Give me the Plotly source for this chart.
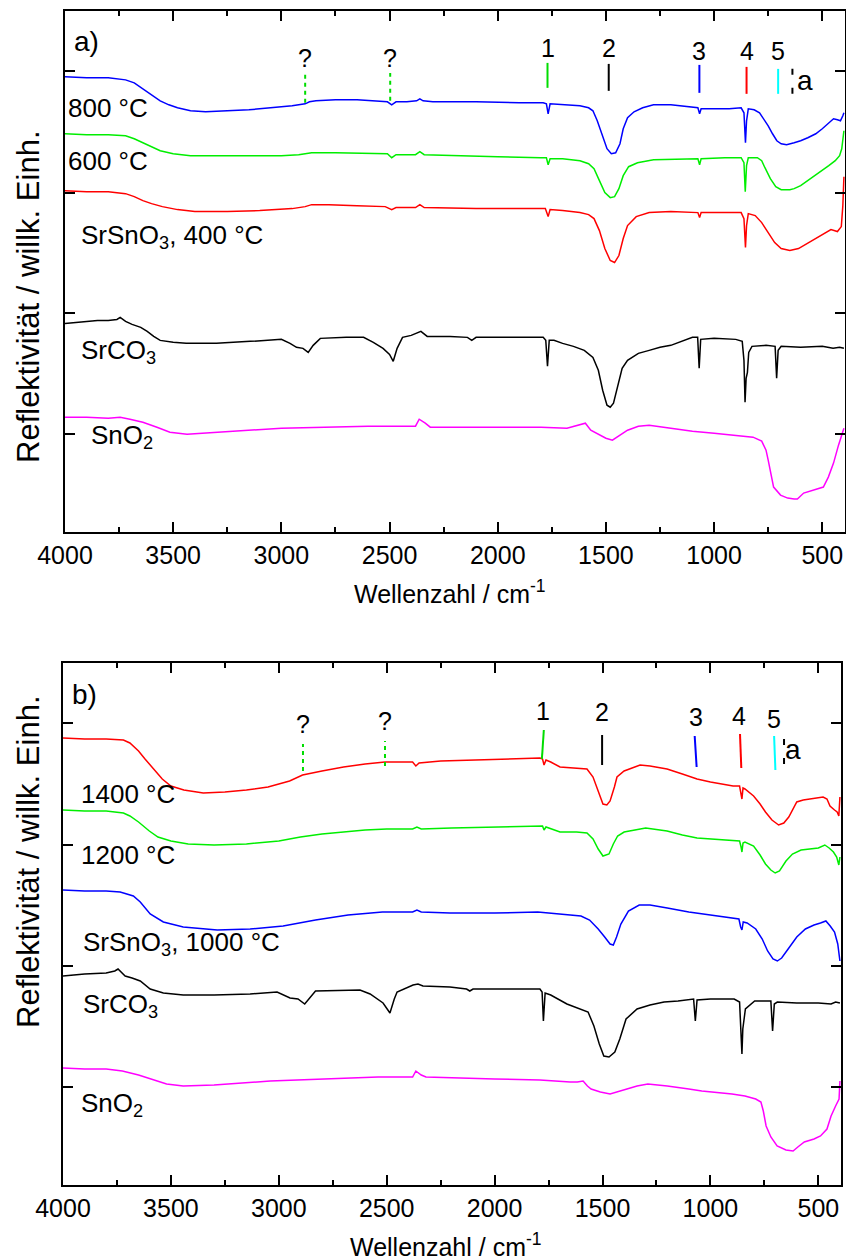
import plotly.graph_objects as go

# ---------------- spectra, panel a) : (wavenumber / cm^-1, reflectivity / arb. units)
a_800 = [(4000, 480), (3900, 479), (3800, 479), (3750, 478), (3720, 477), (3680, 474), (3640, 468),
         (3600, 462), (3560, 456), (3520, 452), (3480, 449), (3420, 446), (3350, 445), (3250, 446),
         (3150, 447), (3050, 449), (2950, 451), (2890, 453), (2870, 455), (2840, 456), (2750, 457),
         (2650, 457), (2550, 456), (2510, 455), (2490, 452), (2470, 455), (2420, 455), (2375, 456),
         (2360, 458), (2345, 456), (2300, 455), (2100, 455), (1900, 454), (1790, 454), (1775, 453),
         (1767, 443), (1758, 453), (1700, 452), (1620, 451), (1580, 449), (1560, 446), (1540, 436),
         (1515, 421), (1495, 408), (1475, 403), (1455, 404), (1435, 413), (1420, 428), (1400, 439),
         (1370, 445), (1330, 449), (1280, 452), (1200, 452), (1120, 450), (1075, 449), (1067, 443),
         (1060, 448), (1000, 448), (930, 448), (875, 449), (862, 444), (855, 414), (850, 436),
         (842, 448), (815, 447), (790, 444), (770, 438), (750, 431), (730, 423), (710, 416),
         (690, 413), (665, 412), (630, 414), (600, 416), (567, 419), (530, 423), (500, 428),
         (470, 434), (448, 438), (430, 437), (416, 436), (405, 441), (400, 444)]

a_600 = [(4000, 423), (3900, 422), (3800, 422), (3720, 421), (3680, 418), (3640, 414), (3600, 410),
         (3560, 406), (3500, 403), (3420, 401), (3300, 401), (3150, 401), (3000, 401), (2920, 402),
         (2890, 403), (2860, 404), (2750, 404), (2600, 403), (2510, 403), (2490, 399), (2470, 402),
         (2380, 402), (2360, 405), (2340, 402), (2200, 401), (2000, 400), (1800, 399), (1775, 399),
         (1767, 392), (1758, 398), (1700, 398), (1620, 396), (1580, 393), (1555, 388), (1530, 376),
         (1505, 364), (1480, 359), (1460, 360), (1440, 368), (1420, 381), (1395, 390), (1354, 394),
         (1280, 397), (1150, 398), (1075, 398), (1067, 392), (1060, 398), (950, 399), (875, 399),
         (862, 394), (856, 365), (850, 391), (842, 399), (800, 399), (780, 396), (765, 389),
         (740, 378), (715, 370), (690, 367), (650, 367), (630, 368), (600, 371), (567, 376),
         (530, 382), (500, 386), (470, 391), (440, 396), (420, 401), (410, 408), (400, 426)]

a_400 = [(4000, 366), (3900, 365), (3800, 365), (3720, 363), (3680, 360), (3640, 356), (3600, 353),
         (3550, 350), (3480, 347), (3400, 345), (3250, 345), (3100, 346), (2950, 348), (2890, 350),
         (2860, 352), (2780, 352), (2650, 351), (2520, 350), (2490, 347), (2470, 349), (2380, 349),
         (2360, 352), (2340, 349), (2100, 348), (1900, 348), (1780, 348), (1767, 340), (1758, 347),
         (1700, 346), (1620, 344), (1580, 342), (1555, 338), (1530, 326), (1505, 308), (1480, 296),
         (1460, 294), (1440, 301), (1420, 318), (1400, 331), (1360, 340), (1300, 344), (1200, 345),
         (1075, 344), (1067, 339), (1060, 344), (950, 344), (875, 344), (862, 338), (855, 309),
         (850, 331), (842, 343), (810, 341), (780, 334), (750, 324), (720, 314), (690, 308),
         (650, 306), (610, 308), (570, 313), (530, 318), (490, 323), (460, 327), (430, 325),
         (412, 330), (405, 351), (400, 380)]

a_srco3 = [(4000, 233), (3950, 234), (3900, 235), (3850, 236), (3800, 236), (3760, 237), (3745, 239),
           (3720, 235), (3690, 232), (3650, 229), (3620, 225), (3590, 220), (3560, 216), (3500, 214),
           (3440, 213), (3300, 213), (3144, 215), (3000, 217), (2960, 213), (2930, 209), (2900, 208),
           (2876, 204), (2853, 211), (2820, 218), (2700, 219), (2620, 219), (2575, 214), (2530, 208),
           (2500, 202), (2483, 195), (2465, 208), (2440, 219), (2400, 221), (2372, 223), (2355, 225),
           (2326, 220), (2220, 220), (2140, 219), (2120, 216), (2100, 219), (1900, 219), (1790, 219),
           (1778, 216), (1770, 190), (1762, 216), (1740, 216), (1700, 213), (1650, 210), (1600, 206),
           (1560, 199), (1535, 186), (1515, 166), (1495, 151), (1480, 149), (1465, 153), (1445, 171),
           (1425, 188), (1400, 196), (1350, 203), (1300, 206), (1250, 209), (1200, 211), (1150, 215),
           (1100, 219), (1076, 219), (1069, 188), (1062, 217), (1000, 218), (900, 217), (870, 215),
           (862, 196), (857, 154), (852, 178), (846, 184), (840, 204), (825, 210), (760, 211),
           (718, 210), (711, 178), (704, 206), (690, 210), (600, 209), (500, 210), (450, 208),
           (420, 209), (400, 208)]

a_sno2 = [(4000, 139), (3900, 139), (3800, 138), (3745, 139), (3700, 137), (3640, 134), (3575, 129),
          (3515, 124), (3436, 122), (3300, 124), (3150, 126), (3000, 128), (2800, 129), (2600, 130),
          (2380, 130), (2363, 137), (2335, 133), (2312, 129), (2200, 129), (2000, 129), (1800, 129),
          (1680, 128), (1620, 131), (1595, 133), (1570, 126), (1530, 121), (1500, 118), (1470, 116),
          (1440, 120), (1400, 126), (1350, 130), (1300, 131), (1200, 128), (1100, 125), (1000, 123),
          (900, 121), (820, 119), (780, 115), (760, 106), (750, 96), (725, 69), (693, 61), (660, 58),
          (630, 57), (615, 57), (586, 63), (540, 66), (495, 69), (472, 79), (448, 93), (425, 111),
          (410, 121), (400, 128)]

# ---------------- spectra, panel b)
b_1400 = [(4000, 471), (3900, 470), (3800, 470), (3720, 469), (3690, 466), (3650, 458), (3620, 450),
          (3580, 440), (3540, 430), (3500, 423), (3440, 419), (3350, 416), (3250, 417), (3150, 419),
          (3050, 422), (2950, 428), (2890, 434), (2800, 438), (2700, 442), (2600, 445), (2508, 447),
          (2420, 447), (2380, 447), (2365, 443), (2350, 446), (2250, 448), (2100, 449), (1950, 450),
          (1790, 451), (1778, 450), (1771, 444), (1762, 449), (1740, 447), (1697, 442), (1620, 441),
          (1572, 440), (1544, 432), (1520, 418), (1498, 405), (1480, 404), (1465, 408), (1445, 422),
          (1433, 432), (1400, 438), (1373, 440), (1326, 444), (1280, 443), (1201, 440), (1130, 435),
          (1062, 430), (1000, 427), (895, 423), (865, 423), (858, 414), (854, 410), (849, 421),
          (840, 420), (800, 413), (770, 405), (745, 397), (715, 389), (684, 384), (660, 386),
          (637, 392), (600, 407), (570, 409), (538, 410), (478, 412), (460, 410), (446, 403),
          (425, 399), (413, 397), (405, 393), (400, 412)]

b_1200 = [(4000, 399), (3900, 398), (3800, 398), (3720, 396), (3690, 393), (3650, 387), (3600, 378),
          (3560, 372), (3500, 368), (3420, 365), (3300, 364), (3150, 365), (3000, 368), (2900, 372),
          (2800, 375), (2700, 377), (2600, 379), (2500, 380), (2380, 380), (2360, 382), (2340, 380),
          (2200, 381), (2000, 382), (1800, 383), (1778, 383), (1771, 379), (1762, 382), (1697, 377),
          (1620, 377), (1572, 376), (1544, 370), (1520, 360), (1498, 353), (1470, 355), (1450, 365),
          (1430, 373), (1400, 377), (1350, 379), (1300, 381), (1201, 378), (1130, 374), (1062, 371),
          (1000, 370), (900, 368), (865, 368), (858, 362), (854, 357), (849, 366), (840, 367),
          (800, 363), (770, 354), (745, 345), (720, 339), (700, 336), (680, 338), (650, 348),
          (620, 355), (580, 359), (540, 360), (500, 361), (470, 364), (450, 361), (430, 357),
          (415, 352), (405, 344), (400, 352)]

b_1000 = [(4000, 319), (3900, 318), (3800, 318), (3735, 317), (3674, 313), (3642, 307), (3596, 295),
          (3535, 287), (3443, 282), (3285, 279), (3133, 280), (2980, 283), (2830, 289), (2679, 294),
          (2520, 297), (2380, 297), (2360, 299), (2340, 297), (2207, 296), (2000, 296), (1800, 297),
          (1700, 295), (1600, 293), (1560, 289), (1520, 280), (1490, 272), (1465, 265), (1450, 264),
          (1435, 272), (1415, 285), (1380, 298), (1330, 304), (1280, 304), (1200, 301), (1100, 297),
          (1000, 294), (900, 291), (868, 290), (860, 282), (854, 279), (848, 287), (830, 286),
          (790, 280), (760, 270), (735, 258), (710, 250), (690, 248), (670, 251), (640, 260),
          (600, 272), (560, 280), (520, 284), (490, 286), (465, 288), (445, 283), (425, 277),
          (410, 265), (400, 248)]

b_srco3 = [(4000, 233), (3900, 235), (3800, 236), (3760, 238), (3745, 240), (3712, 233), (3680, 231),
           (3642, 228), (3596, 220), (3535, 216), (3443, 214), (3300, 214), (3133, 215), (3008, 217),
           (2948, 211), (2911, 210), (2880, 205), (2855, 212), (2830, 218), (2624, 219), (2577, 215),
           (2517, 206), (2485, 196), (2465, 210), (2452, 217), (2378, 224), (2355, 225), (2332, 223),
           (2207, 222), (2130, 220), (2115, 218), (2100, 220), (1900, 220), (1790, 220), (1780, 217),
           (1774, 188), (1766, 216), (1740, 214), (1665, 205), (1600, 200), (1567, 197), (1540, 183),
           (1515, 165), (1494, 153), (1470, 152), (1443, 157), (1420, 170), (1391, 190), (1340, 200),
           (1280, 204), (1215, 207), (1150, 208), (1078, 210), (1070, 188), (1062, 209), (1000, 210),
           (890, 210), (865, 207), (858, 170), (854, 155), (850, 180), (845, 187), (838, 200),
           (795, 208), (720, 208), (712, 178), (704, 205), (690, 207), (600, 206), (500, 206),
           (441, 205), (420, 207), (400, 206)]

b_sno2 = [(4000, 141), (3900, 140), (3800, 140), (3725, 138), (3650, 134), (3592, 130), (3520, 125),
          (3443, 123), (3300, 124), (3040, 128), (2800, 130), (2540, 132), (2380, 132), (2365, 138),
          (2340, 134), (2318, 132), (2000, 130), (1790, 129), (1650, 127), (1617, 127), (1590, 128),
          (1570, 123), (1553, 120), (1510, 117), (1465, 115), (1420, 118), (1380, 121), (1340, 123),
          (1290, 125), (1200, 123), (1100, 120), (1040, 118), (900, 115), (840, 113), (790, 110),
          (766, 107), (755, 98), (742, 83), (720, 72), (691, 63), (650, 59), (617, 58), (595, 62),
          (565, 67), (520, 70), (490, 73), (460, 80), (441, 93), (420, 103), (404, 110), (400, 128)]

# ---------------- curve labels: (text, wavenumber, reflectivity)
labels_a = [("800 °C", 3995, 449), ("600 °C", 3995, 396), ("SrSnO<sub>3</sub>, 400 °C", 3935, 320),
            ("SrCO<sub>3</sub>", 3935, 205), ("SnO<sub>2</sub>", 3890, 120)]
labels_b = [("1400 °C", 3925, 415), ("1200 °C", 3925, 354), ("SrSnO<sub>3</sub>, 1000 °C", 3918, 266),
            ("SrCO<sub>3</sub>", 3918, 204), ("SnO<sub>2</sub>", 3925, 105)]

# ---------------- band markers
mark_text = ["?", "?", "1", "2", "3", "4", "5", ""]
mark_color = ["#00dd00", "#00dd00", "#00dd00", "#000000", "#0000ff", "#ff0000", "#00ffff", "#000000"]
mark_dash = ["4px,4px", "4px,4px", "solid", "solid", "solid", "solid", "solid", "6px,13px"]

mark_a_top = [2890, 2497, 1770, 1487, 1068, 850, 704, 638]
mark_a_bot = [2890, 2497, 1770, 1487, 1068, 850, 704, 638]
mark_a_lo = [454, 456, 469, 466, 464, 463, 463, 463]
mark_a_hi = [483, 484, 494, 493, 492, 490, 488, 489]
mark_a_txt_x = [2890, 2497, 1768, 1487, 1068, 850, 704]
mark_a_txt_y = [499, 499, 509, 509, 506, 506, 506]
a_letter_a = (578, 476)

mark_b_top = [2888, 2508, 1772, 1502, 1073, 863, 705, 659]
mark_b_bot = [2888, 2508, 1781, 1502, 1064, 857, 699, 659]
mark_b_lo = [438, 443, 450, 444, 442, 441, 439, 445]
mark_b_hi = [465, 468, 479, 474, 473, 475, 473, 470]
mark_b_txt_x = [2888, 2508, 1776, 1502, 1067, 866, 705]
mark_b_txt_y = [485, 488, 498, 497, 492, 493, 490]
b_letter_a = (617, 460)

x_ticks = [4000, 3500, 3000, 2500, 2000, 1500, 1000, 500]
y_ticks = [122, 243, 364, 486]

FONT = "Liberation Sans, Arial, sans-serif"
W, H = 846, 1260

fig = go.Figure()


def add_curves(curves, xa, ya):
    for data, color in curves:
        fig.add_trace(go.Scatter(x=[p[0] for p in data], y=[p[1] for p in data], mode="lines",
                                 line=dict(color=color, width=1.5), xaxis=xa, yaxis=ya,
                                 showlegend=False, hoverinfo="skip"))


add_curves([(a_800, "#0000ff"), (a_600, "#00ee00"), (a_400, "#ff0000"),
            (a_srco3, "#000000"), (a_sno2, "#ff00ff")], "x", "y")
add_curves([(b_1400, "#ff0000"), (b_1200, "#00ee00"), (b_1000, "#0000ff"),
            (b_srco3, "#000000"), (b_sno2, "#ff00ff")], "x2", "y2")

annotations = []
shapes = []


def panel_decor(xr, yr, labels, top, bot, lo, hi, tx, ty, letter_a, tag):
    for text, x, y in labels:
        annotations.append(dict(text=text, x=x, y=y, xref=xr, yref=yr, xanchor="left",
                                yanchor="middle", showarrow=False,
                                font=dict(family=FONT, size=26, color="black")))
    for i in range(len(top)):
        shapes.append(dict(type="line", xref=xr, yref=yr, x0=bot[i], x1=top[i], y0=lo[i], y1=hi[i],
                           line=dict(color=mark_color[i], width=2, dash=mark_dash[i])))
    for i in range(len(tx)):
        annotations.append(dict(text=mark_text[i], x=tx[i], y=ty[i], xref=xr, yref=yr,
                                xanchor="center", yanchor="middle", showarrow=False,
                                font=dict(family=FONT, size=25, color="black")))
    annotations.append(dict(text="a", x=letter_a[0], y=letter_a[1], xref=xr, yref=yr,
                            xanchor="center", yanchor="middle", showarrow=False,
                            font=dict(family=FONT, size=28, color="black")))
    annotations.append(dict(text=tag, x=3968, y=515, xref=xr, yref=yr, xanchor="left",
                            yanchor="middle", showarrow=False,
                            font=dict(family=FONT, size=28, color="black")))


panel_decor("x", "y", labels_a, mark_a_top, mark_a_bot, mark_a_lo, mark_a_hi,
            mark_a_txt_x, mark_a_txt_y, a_letter_a, "a)")
panel_decor("x2", "y2", labels_b, mark_b_top, mark_b_bot, mark_b_lo, mark_b_hi,
            mark_b_txt_x, mark_b_txt_y, b_letter_a, "b)")

# axis titles
for xc, yc in [(450, 592), (446, 1245)]:
    annotations.append(dict(text="Wellenzahl / cm<sup>-1</sup>", x=xc / W, y=1 - yc / H,
                            xref="paper", yref="paper", xanchor="center", yanchor="middle",
                            showarrow=False, font=dict(family=FONT, size=25, color="black")))
for xc, yc in [(28, 297), (28, 862)]:
    annotations.append(dict(text="Reflektivität / willk. Einh.", x=xc / W, y=1 - yc / H,
                            xref="paper", yref="paper", xanchor="center", yanchor="middle",
                            textangle=-90, showarrow=False,
                            font=dict(family=FONT, size=31, color="black")))

xaxis_common = dict(range=[4000, 395], tickmode="array", tickvals=x_ticks,
                    ticktext=[str(v) for v in x_ticks], ticks="inside", ticklen=10, tickwidth=2,
                    tickcolor="black", showline=True, linewidth=2, linecolor="black",
                    mirror="allticks", showgrid=False, zeroline=False, automargin=False,
                    tickfont=dict(family=FONT, size=25, color="black"),
                    minor=dict(ticks="inside", ticklen=5, tickwidth=2, tickcolor="black",
                               tickmode="linear", tick0=250, dtick=500, showgrid=False))
yaxis_common = dict(range=[24, 546], tickmode="array", tickvals=y_ticks, ticks="inside",
                    ticklen=10, tickwidth=2, tickcolor="black", showticklabels=False,
                    showline=True, linewidth=2, linecolor="black", mirror="allticks",
                    showgrid=False, zeroline=False, automargin=False)

fig.update_layout(
    width=W, height=H, margin=dict(l=0, r=0, t=0, b=0, autoexpand=False),
    paper_bgcolor="white", plot_bgcolor="white",
    xaxis=dict(domain=[65 / W, 845 / W], anchor="y", **xaxis_common),
    yaxis=dict(domain=[1 - 532 / H, 1 - 11 / H], anchor="x", **yaxis_common),
    xaxis2=dict(domain=[63 / W, 841 / W], anchor="y2", **xaxis_common),
    yaxis2=dict(domain=[1 - 1185 / H, 1 - 663 / H], anchor="x2", **yaxis_common),
    annotations=annotations, shapes=shapes,
)

fig.write_html("out.html")
